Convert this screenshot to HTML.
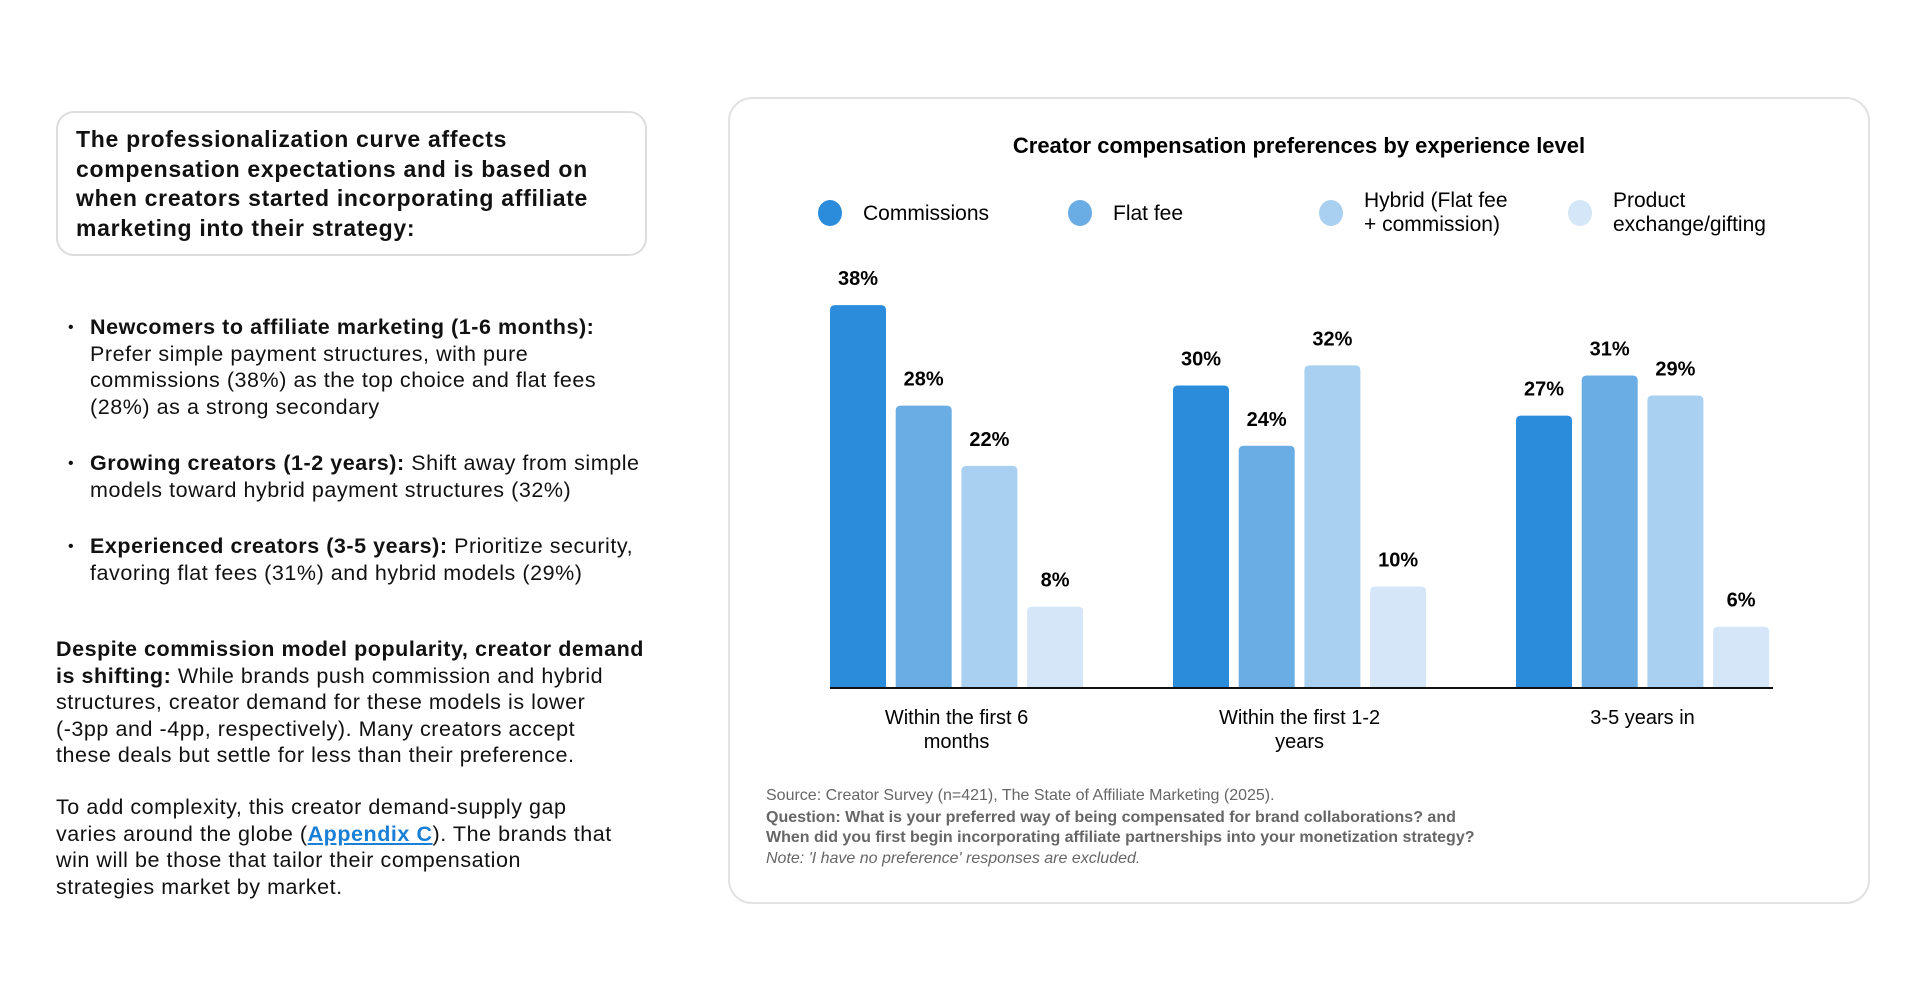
<!DOCTYPE html>
<html><head><meta charset="utf-8">
<style>
body{margin:0;width:1920px;height:995px;background:#fff;font-family:"Liberation Sans",sans-serif;color:#111;position:relative;overflow:hidden}
.abs{position:absolute;white-space:nowrap}
#headbox{left:56px;top:111px;width:591px;height:145px;border:2px solid #ddd;border-radius:18px;box-sizing:border-box}
#headtxt{left:76px;top:125px;font-size:23px;font-weight:bold;line-height:29.5px;letter-spacing:0.7px}
.body{font-size:21.5px;line-height:26.5px;letter-spacing:0.55px}
.bul{left:68px;font-size:16px}
#card{left:728px;top:97px;width:1142px;height:807px;border:2px solid #e2e2e2;border-radius:24px;box-sizing:border-box}
a{color:#1a7fd6;font-weight:bold;text-decoration:underline}
</style></head><body>
<div id="headbox" class="abs"></div>
<div id="headtxt" class="abs">The professionalization curve affects<br>compensation expectations and is based on<br>when creators started incorporating affiliate<br>marketing into their strategy:</div>

<div class="abs bul" style="top:319px">•</div>
<div class="abs body" style="left:90px;top:314px"><b>Newcomers to affiliate marketing (1-6 months):</b><br>Prefer simple payment structures, with pure<br>commissions (38%) as the top choice and flat fees<br>(28%) as a strong secondary</div>
<div class="abs bul" style="top:455px">•</div>
<div class="abs body" style="left:90px;top:450px"><b>Growing creators (1-2 years):</b> Shift away from simple<br>models toward hybrid payment structures (32%)</div>
<div class="abs bul" style="top:538px">•</div>
<div class="abs body" style="left:90px;top:533px"><b>Experienced creators (3-5 years):</b> Prioritize security,<br>favoring flat fees (31%) and hybrid models (29%)</div>

<div class="abs body" style="left:56px;top:636px"><b>Despite commission model popularity, creator demand<br>is shifting:</b> While brands push commission and hybrid<br>structures, creator demand for these models is lower<br>(-3pp and -4pp, respectively). Many creators accept<br>these deals but settle for less than their preference.</div>
<div class="abs body" style="left:56px;top:794px">To add complexity, this creator demand-supply gap<br>varies around the globe (<a>Appendix C</a>). The brands that<br>win will be those that tailor their compensation<br>strategies market by market.</div>

<div id="card" class="abs"></div>
<svg class="abs" style="left:0;top:0" width="1920" height="995" id="chart"></svg>

<script>
const categories=[["Within the first 6","months"],["Within the first 1-2","years"],["3-5 years in"]];
const seriesNames=[["Commissions"],["Flat fee"],["Hybrid (Flat fee","+ commission)"],["Product","exchange/gifting"]];
const commissions=[38,30,27];
const flatFee=[28,24,31];
const hybrid=[22,32,29];
const product=[8,10,6];
const series=[commissions,flatFee,hybrid,product];
const colors=["#2b8cdb","#6aade4","#a9d0f0","#d4e6f7"];
const svg=document.getElementById('chart');
const NS='http://www.w3.org/2000/svg';
const baseY=687, pxPer=10.05;
const y=v=>baseY-v*pxPer;
const groupX=i=>830+i*343;
const barX=(g,s)=>groupX(g)+s*65.7;
const barW=56;
function mk(tag,attrs,txt){const e=document.createElementNS(NS,tag);for(const k in attrs)e.setAttribute(k,attrs[k]);if(txt!==undefined)e.textContent=txt;svg.appendChild(e);return e;}
let t=mk('text',{x:1299,y:153,'text-anchor':'middle','font-size':22,'font-weight':'bold','font-family':'Liberation Sans'},'Creator compensation preferences by experience level');


const legX=[830,1080,1331,1580];
seriesNames.forEach((n,i)=>{
  const c=mk('ellipse',{cx:legX[i],cy:213,rx:12,ry:13,fill:colors[i]});
  
  
  n.forEach((ln,j)=>{
    const tt=mk('text',{x:legX[i]+33,y:(n.length==1?220:207)+j*24,'font-size':21,'font-family':'Liberation Sans'},ln);
    
    
  });
});
series.forEach((vals,s)=>{
  vals.forEach((v,g)=>{
    const x=barX(g,s), top=y(v);
    const r=mk('path',{d:`M${x},${baseY} V${top+5} Q${x},${top} ${x+5},${top} H${x+barW-5} Q${x+barW},${top} ${x+barW},${top+5} V${baseY} Z`,fill:colors[s]});
    
    
    const l=mk('text',{x:x+barW/2,y:top-20,'text-anchor':'middle','font-size':20,'font-weight':'bold','font-family':'Liberation Sans'},v+'%');
    
    
  });
});
const ax=mk('line',{x1:830,x2:1773,y1:baseY+1,y2:baseY+1,stroke:'#111','stroke-width':2});


categories.forEach((c,i)=>{
  c.forEach((ln,j)=>{
    const tt=mk('text',{x:groupX(i)+(3*65.7+barW)/2,y:724+j*24,'text-anchor':'middle','font-size':20,'font-family':'Liberation Sans'},ln);
    
    
  });
});
const notes=[["Source: Creator Survey (n=421), The State of Affiliate Marketing (2025).",'normal','normal',800],
["Question: What is your preferred way of being compensated for brand collaborations? and",'bold','normal',822],
["When did you first begin incorporating affiliate partnerships into your monetization strategy?",'bold','normal',842],
["Note: 'I have no preference' responses are excluded.",'normal','italic',863]];
notes.forEach(n=>{
  const tt=mk('text',{x:766,y:n[3],'font-size':16,'font-weight':n[1],'font-style':n[2],fill:'#666','font-family':'Liberation Sans'},n[0]);
  
  
});
</script>
</body></html>
